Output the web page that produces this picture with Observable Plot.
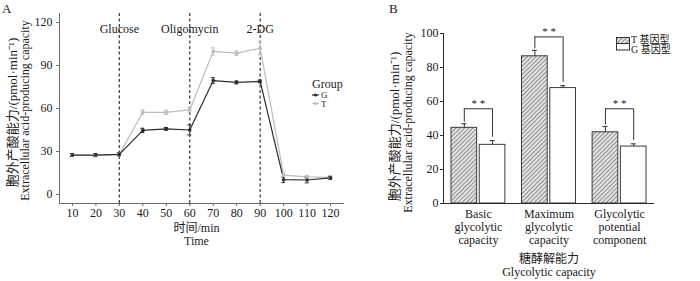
<!DOCTYPE html>
<html><head><meta charset="utf-8">
<script src="https://cdn.jsdelivr.net/npm/d3@7"></script>
<script src="https://cdn.jsdelivr.net/npm/@observablehq/plot@0.6"></script>
<style>
body{margin:0;background:#fff;}
#fig{position:relative;width:700px;height:281px;overflow:hidden;font-family:"Liberation Serif","Noto Sans CJK SC",serif;color:#1a1a1a;}
#fig .panel{position:absolute;top:0;}
#fig svg text{fill:#1a1a1a;}
#fig .lab{position:absolute;white-space:nowrap;line-height:1;}
#fig .key{position:absolute;}
</style></head><body>
<div id="fig"></div>
<script>
// ---------- Panel A data ----------
const times = [10, 20, 30, 40, 50, 60, 70, 80, 90, 100, 110, 120];
const gMean = [27.5, 27.5, 28.0, 44.7, 45.8, 45.0, 79.5, 78.2, 78.9, 10.3, 10.1, 11.6];
const gErr  = [1.0, 1.0, 1.0, 1.5, 1.0, 3.5, 2.0, 1.0, 1.0, 2.0, 2.0, 1.0];
const tMean = [27.4, 27.2, 28.0, 57.4, 57.3, 59.0, 99.8, 98.6, 102.0, 13.5, 12.3, 12.0];
const tErr  = [1.0, 1.0, 1.0, 1.5, 1.5, 1.5, 2.5, 1.5, 4.5, 1.0, 1.0, 1.0];
const treatments = ["Glucose", "Oligomycin", "2-DG"];
const treatmentTimes = [30, 60, 90];
const yTicksA = [0, 30, 60, 90, 120];
const groupsA = ["T", "G"];

// ---------- Panel B data ----------
const categories = ["Basic\nglycolytic\ncapacity", "Maximum\nglycolytic\ncapacity", "Glycolytic\npotential\ncomponent"];
const tBar = [44.5, 86.6, 41.9];
const tBarErr = [2.4, 3.5, 3.4];
const gBar = [34.5, 67.9, 33.5];
const gBarErr = [2.5, 1.4, 1.6];
const sigLevel = [55.7, 98.0, 55.7];
const sigLabel = ["* *", "* *", "* *"];
const yTicksB = [0, 20, 40, 60, 80, 100];

const FONT = '"Liberation Serif","Noto Sans CJK SC",serif';
const fig = document.getElementById("fig");

function label(text, left, top, size, extra) {
  const d = document.createElement("div");
  d.className = "lab";
  d.textContent = text;
  d.style.left = left + "px";
  d.style.top = top + "px";
  d.style.fontSize = size + "px";
  if (extra) Object.assign(d.style, extra);
  fig.appendChild(d);
  return d;
}

// ---------- Panel A ----------
const lineData = [];
groupsA.forEach(g => {
  times.forEach((t, i) => {
    lineData.push({t, grp: g, v: g === "G" ? gMean[i] : tMean[i], e: g === "G" ? gErr[i] : tErr[i]});
  });
});
const treatData = treatments.map((name, i) => ({name, t: treatmentTimes[i]}));
const xDomA = [4.5, 125.5];
const yDomA = [-6.3, 126.3];

const plotA = Plot.plot({
  width: 355, height: 281,
  marginLeft: 59, marginRight: 12, marginTop: 13, marginBottom: 78,
  style: {fontFamily: FONT, fontSize: "12px", color: "#6a6a6a", background: "transparent", overflow: "visible"},
  x: {domain: xDomA, ticks: times, tickSize: 3, tickPadding: 2, label: null, line: true},
  y: {domain: yDomA, ticks: yTicksA, tickSize: 3, tickPadding: 4, label: null, line: true},
  color: {domain: ["G", "T"], range: ["#2b2b2b", "#bdbdbd"]},
  marks: [
    Plot.ruleX(treatData, {x: "t", stroke: "#444", strokeWidth: 1.3, strokeDasharray: "3,2.5"}),
    Plot.text(treatData, {x: "t", text: "name", frameAnchor: "top", dy: 11, fontSize: 12}),
    Plot.line(lineData, {x: "t", y: "v", z: "grp", stroke: "grp", strokeWidth: 1.2}),
    Plot.ruleX(lineData, {x: "t", y1: d => d.v - d.e, y2: d => d.v + d.e, stroke: "grp", strokeWidth: 1}),
    Plot.ruleY(lineData, {x1: "t", x2: "t", y: d => d.v + d.e, stroke: "grp", strokeWidth: 1, insetLeft: -2, insetRight: -2}),
    Plot.ruleY(lineData, {x1: "t", x2: "t", y: d => d.v - d.e, stroke: "grp", strokeWidth: 1, insetLeft: -2, insetRight: -2}),
    Plot.dot(lineData, {x: "t", y: "v", fill: "grp", r: 1.8}),
    Plot.text(["胞外产酸能力/(pmol·min⁻¹)"], {frameAnchor: "left", textAnchor: "middle", rotate: -90, dx: -47, dy: 4, fontSize: 13, text: d => d}),
    Plot.text(["Extracellular acid-producing capacity"], {frameAnchor: "left", textAnchor: "middle", rotate: -90, dx: -34, dy: 2, fontSize: 12, text: d => d}),
    Plot.text(["时间/min"], {frameAnchor: "bottom", dy: 28, dx: -5, fontSize: 12, text: d => d}),
    Plot.text(["Time"], {frameAnchor: "bottom", dy: 41, dx: -5, fontSize: 12, text: d => d})
  ]
});
const divA = document.createElement("div");
divA.className = "panel"; divA.style.left = "0px";
divA.appendChild(plotA);
fig.appendChild(divA);

// ---------- Panel B ----------
const LEFT_B = 350, WIDTH_B = 350;
const mlB = 93, mrB = 46;
const padIn = 0.236, padOut = 0.113;
const band = d3.scaleBand().domain(categories).range([mlB, WIDTH_B - mrB]).paddingInner(padIn).paddingOuter(padOut);
const bw = band.bandwidth();
const gap = 2.6;
const barW = (bw - gap) / 2;
const off = bw / 2 - barW / 2;
const cap = 2.5;

const tData = categories.map((c, i) => ({c, v: tBar[i], e: tBarErr[i], s: sigLevel[i], lab: sigLabel[i]}));
const gData = categories.map((c, i) => ({c, v: gBar[i], e: gBarErr[i], s: sigLevel[i]}));

const plotB = Plot.plot({
  width: WIDTH_B, height: 281,
  marginLeft: mlB, marginRight: mrB, marginTop: 33, marginBottom: 78,
  style: {fontFamily: FONT, fontSize: "12px", color: "#2a2a2a", background: "transparent", overflow: "visible"},
  x: {type: "band", domain: categories, paddingInner: padIn, paddingOuter: padOut, round: false, axis: null},
  y: {domain: [0, 100], ticks: yTicksB, tickSize: 3, tickPadding: 2, label: null, line: true},
  marks: [
    Plot.barY(tData, {x: "c", y: "v", fill: "url(#hatchB)", stroke: "#3a3a3a", strokeWidth: 1, insetRight: bw - barW}),
    Plot.barY(gData, {x: "c", y: "v", fill: "#fff", stroke: "#3a3a3a", strokeWidth: 1, insetLeft: bw - barW}),
    Plot.ruleX(tData, {x: "c", y1: "v", y2: d => d.v + d.e, dx: -off, stroke: "#333"}),
    Plot.ruleX(gData, {x: "c", y1: "v", y2: d => d.v + d.e, dx: off, stroke: "#333"}),
    Plot.tickY(tData, {x: "c", y: d => d.v + d.e, insetLeft: barW / 2 - cap, insetRight: bw - barW / 2 - cap, stroke: "#333"}),
    Plot.tickY(gData, {x: "c", y: d => d.v + d.e, insetLeft: bw - barW / 2 - cap, insetRight: barW / 2 - cap, stroke: "#333"}),
    // significance brackets
    Plot.tickY(tData, {x: "c", y: "s", insetLeft: barW / 2, insetRight: barW / 2, stroke: "#333"}),
    Plot.ruleX(tData, {x: "c", y1: d => d.v + d.e + 0.9, y2: "s", dx: -off, stroke: "#333"}),
    Plot.ruleX(gData, {x: "c", y1: d => d.v + d.e + 2, y2: "s", dx: off, stroke: "#333"}),
    Plot.text(tData, {x: "c", y: "s", text: "lab", dy: -5, fontSize: 11}),
    Plot.ruleY([0], {stroke: "#2a2a2a"}),
    Plot.text(categories, {x: d => d, text: d => d, frameAnchor: "bottom", lineAnchor: "top", dy: 6, lineHeight: 1.05, fontSize: 12}),
    Plot.text(["胞外产酸能力/(pmol·min⁻¹)"], {frameAnchor: "left", textAnchor: "middle", rotate: -90, dx: -49, dy: 8, fontSize: 13, text: d => d}),
    Plot.text(["Extracellular acid-producing capacity"], {frameAnchor: "left", textAnchor: "middle", rotate: -90, dx: -35, dy: 4, fontSize: 12, text: d => d}),
    Plot.text(["糖酵解能力"], {frameAnchor: "bottom", dy: 59, fontSize: 12, text: d => d}),
    Plot.text(["Glycolytic capacity"], {frameAnchor: "bottom", dy: 72, fontSize: 12, text: d => d})
  ]
});
// hatch pattern
const defs = d3.select(plotB).insert("defs", ":first-child");
const pat = defs.append("pattern").attr("id", "hatchB").attr("patternUnits", "userSpaceOnUse")
  .attr("width", 3).attr("height", 3).attr("patternTransform", "rotate(45)");
pat.append("rect").attr("width", 3).attr("height", 3).attr("fill", "#e4e4e4");
pat.append("line").attr("x1", 0.5).attr("y1", 0).attr("x2", 0.5).attr("y2", 3).attr("stroke", "#8c8c8c").attr("stroke-width", 1);

const divB = document.createElement("div");
divB.className = "panel"; divB.style.left = LEFT_B + "px";
divB.appendChild(plotB);
fig.appendChild(divB);

// ---------- panel letters ----------
label("A", 2, 2, 13);
label("B", 389, 2, 13);

// ---------- legend A ----------
label("Group", 312, 78, 12);
const keyA = d3.select(fig).append("svg").attr("class", "key")
  .style("left", "310px").style("top", "90px").attr("width", 12).attr("height", 18);
[["G", "#2b2b2b", 5], ["T", "#bdbdbd", 13.5]].forEach(([g, c, y]) => {
  keyA.append("line").attr("x1", 2).attr("x2", 9).attr("y1", y).attr("y2", y).attr("stroke", c).attr("stroke-width", 1.2);
  keyA.append("circle").attr("cx", 5.5).attr("cy", y).attr("r", 1.6).attr("fill", c);
});
label("G", 321, 91, 9, {lineHeight: "9px", height: "9px"});
label("T", 321, 99.5, 9, {lineHeight: "9px", height: "9px"});

// ---------- legend B ----------
const keyB = d3.select(fig).append("svg").attr("class", "key")
  .style("left", "615px").style("top", "36px").attr("width", 16).attr("height", 16);
const patL = keyB.append("defs").append("pattern").attr("id", "hatchL").attr("patternUnits", "userSpaceOnUse")
  .attr("width", 3).attr("height", 3).attr("patternTransform", "rotate(45)");
patL.append("rect").attr("width", 3).attr("height", 3).attr("fill", "#e4e4e4");
patL.append("line").attr("x1", 0.5).attr("y1", 0).attr("x2", 0.5).attr("y2", 3).attr("stroke", "#8c8c8c");
keyB.append("rect").attr("x", 1.5).attr("y", 1.5).attr("width", 13).attr("height", 6).attr("fill", "url(#hatchL)").attr("stroke", "#333");
keyB.append("rect").attr("x", 1.5).attr("y", 7.5).attr("width", 13).attr("height", 6.5).attr("fill", "#fff").attr("stroke", "#333");
label("T 基因型", 631, 35, 10, {lineHeight: "10px", height: "10px"});
label("G 基因型", 631, 45, 10, {lineHeight: "10px", height: "10px"});
</script>
</body></html>
